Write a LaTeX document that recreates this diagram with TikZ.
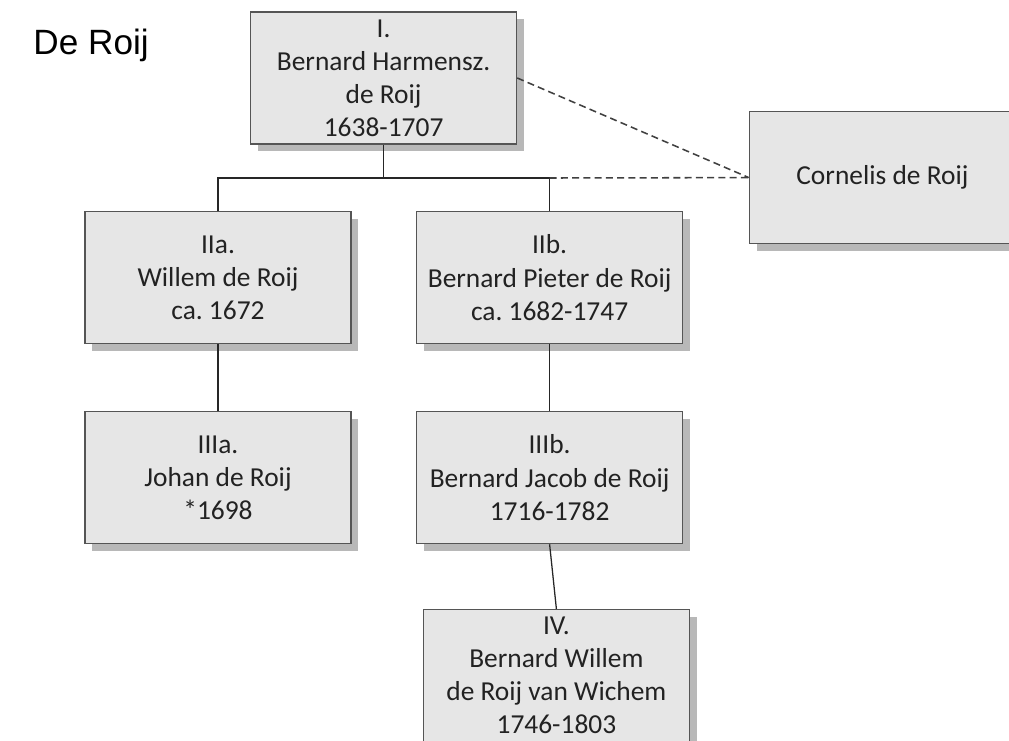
\documentclass[tikz,border=0pt]{standalone}
\usepackage{fontspec}
\setmainfont{Carlito}
\newfontfamily\titlefont{Liberation Sans}
\usetikzlibrary{shadows}
\frenchspacing

\definecolor{boxfill}{HTML}{E6E6E6}
\definecolor{boxline}{HTML}{555555}
\definecolor{boxshade}{HTML}{B8B8B8}
\definecolor{nametext}{HTML}{222222}

\tikzset{
	person/.style={draw=boxline, line width=0.9pt, fill=boxfill,
		minimum width=6.65cm, minimum height=3.3cm, inner sep=0pt,
		align=center, text=nametext, font=\fontsize{19.5}{23.5}\selectfont,
		drop shadow={shadow xshift=0.18cm, shadow yshift=-0.18cm, fill=boxshade, opacity=1}},
	famline/.style={line width=0.9pt, draw=black!85},
	linkline/.style={line width=1.1pt, draw=black!75, dash pattern=on 5pt off 3pt}
}

\begin{document}
\begin{tikzpicture}
	\useasboundingbox (0,0) rectangle (25.225,-18.5);
	% Title
	\node[anchor=base west, inner sep=0pt, font=\titlefont\fontsize{25}{30}\selectfont] (title) at (0.83,-1.36) {De Roij};
	% Generations
	\node[person] (genI) at (9.59,-1.95) {I.\\Bernard Harmensz.\\de Roij\\1638-1707};
	\node[person] (cornelis) at (22.06,-4.44) {Cornelis de Roij};
	\node[person] (genIIa) at (5.45,-6.94) {IIa.\\Willem de Roij\\ca. 1672};
	\node[person] (genIIb) at (13.74,-6.94) {IIb.\\Bernard Pieter de Roij\\ca. 1682-1747};
	\node[person] (genIIIa) at (5.45,-11.94) {IIIa.\\Johan de Roij\\*1698};
	\node[person] (genIIIb) at (13.74,-11.94) {IIIb.\\Bernard Jacob de Roij\\1716-1782};
	\node[person] (genIV) at (13.91,-16.89) {IV.\\Bernard Willem\\de Roij van Wichem\\1746-1803};
	% Fork below generation I
	\coordinate (fork) at (genI.south |- 0,-4.45);
	\coordinate (forkL) at (genIIa.north |- fork);
	\coordinate (forkR) at (genIIb.north |- fork);
	\draw[famline] (genI.south) -- (fork);
	\draw[famline] (genIIa.north) -- (forkL) -- (forkR) -- (genIIb.north);
	\draw[famline] (genIIa.south) -- (genIIIa.north);
	\draw[famline] (genIIb.south) -- (genIIIb.north);
	\draw[famline] (genIIIb.south) -- (genIV.north);
	% Uncertain link
	\draw[linkline] (genI.east) -- (cornelis.west);
	\draw[linkline] (forkR) -- (cornelis.west);
\end{tikzpicture}
\end{document}
